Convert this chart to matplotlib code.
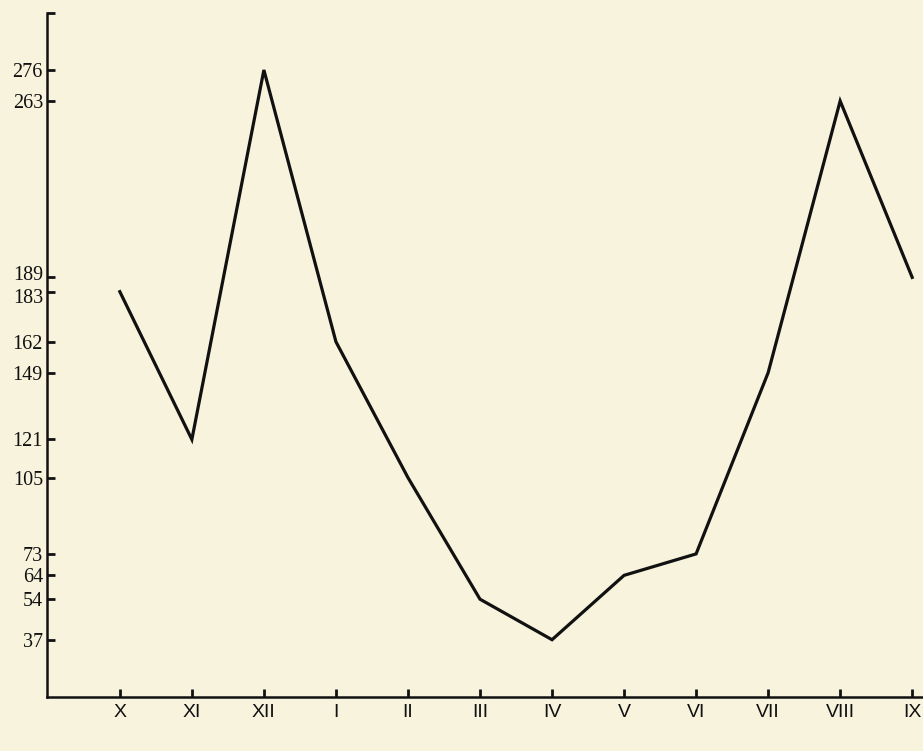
import matplotlib.pyplot as plt
import matplotlib.transforms as mtransforms

months = ['X', 'XI', 'XII', 'I', 'II', 'III', 'IV', 'V', 'VI', 'VII', 'VIII', 'IX']
values = [183, 121, 276, 162, 105, 54, 37, 64, 73, 149, 263, 189]
ytick_vals = [276, 263, 189, 183, 162, 149, 121, 105, 73, 64, 54, 37]

bg = '#f8f3dd'
fig = plt.figure(figsize=(9.23, 7.51), dpi=100, facecolor=bg)
ax = fig.add_axes([0.051, 0.072, 0.949, 0.911], facecolor=bg)

x = list(range(len(months)))
ax.plot(x, values, color='#111111', lw=2.3, solid_joinstyle='miter')

ax.set_xlim(-1.01, 11.15)
ax.set_ylim(13, 300)

ax.set_yticks(ytick_vals + [300])
ax.set_yticklabels([str(v) for v in ytick_vals] + [''],
                   fontfamily='Liberation Serif', fontsize=14.5)
ax.set_xticks(x)
ax.set_xticklabels(months, fontfamily='Liberation Sans', fontsize=14)

ax.tick_params(axis='y', direction='in', length=6, width=2, pad=3, colors='#111111')
ax.tick_params(axis='x', direction='in', length=6, width=2, pad=5, colors='#111111')

# pull the crowded 189 / 183 labels slightly apart, as in the original
for lab in ax.get_yticklabels():
    shift = {'189': 3, '183': -3}.get(lab.get_text(), 0)
    if shift:
        lab.set_transform(lab.get_transform() +
                          mtransforms.ScaledTranslation(0, shift / 72, fig.dpi_scale_trans))

for s in ['top', 'right']:
    ax.spines[s].set_visible(False)
for s in ['left', 'bottom']:
    ax.spines[s].set_linewidth(1.8)
    ax.spines[s].set_color('#111111')

fig.savefig('out.png', dpi=100, facecolor=bg)
